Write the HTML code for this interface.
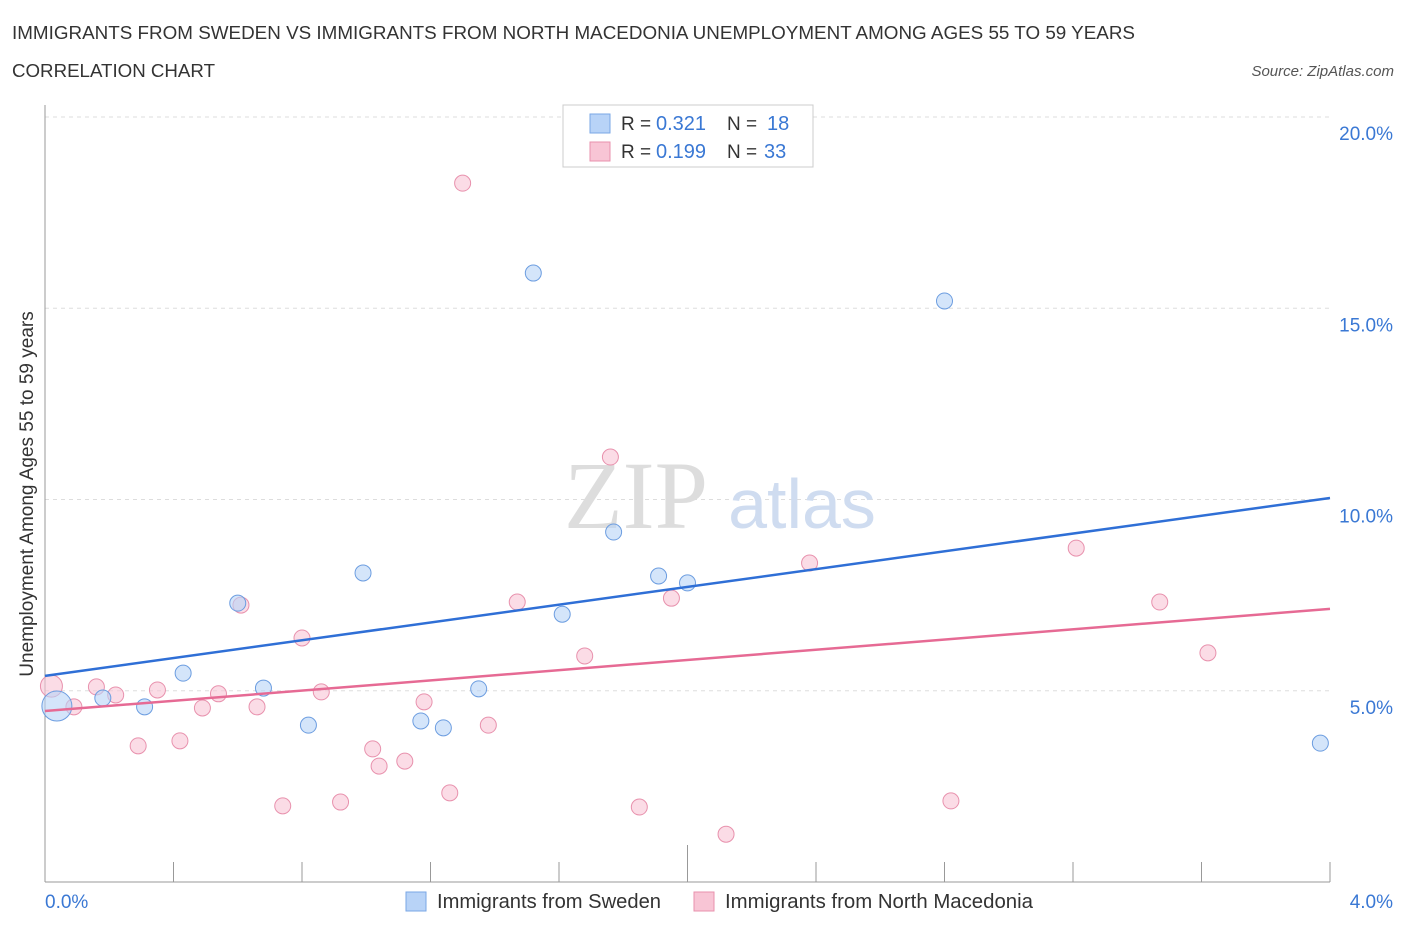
<!DOCTYPE html>
<html><head><meta charset="utf-8"><style>
body{margin:0;background:#fff;font-family:"Liberation Sans",sans-serif;}
</style></head><body>
<svg width="1406" height="930" xmlns="http://www.w3.org/2000/svg" style="font-family:'Liberation Sans',sans-serif">
<text x="12" y="39" font-size="18" fill="#333" textLength="1123" lengthAdjust="spacingAndGlyphs">IMMIGRANTS FROM SWEDEN VS IMMIGRANTS FROM NORTH MACEDONIA UNEMPLOYMENT AMONG AGES 55 TO 59 YEARS</text>
<text x="12" y="77" font-size="18" fill="#333" textLength="203" lengthAdjust="spacingAndGlyphs">CORRELATION CHART</text>
<text x="1394" y="76" font-size="15" fill="#555" font-style="italic" text-anchor="end">Source: ZipAtlas.com</text>
<g id="grid"></g>
<text x="636" y="528" font-size="96" fill="#ddd" font-family="Liberation Serif" text-anchor="middle">ZIP</text>
<text x="802" y="528" font-size="70" fill="#cfdcf0" text-anchor="middle">atlas</text>
<g id="marks"></g>
<text x="33" y="494" font-size="19" fill="#333" text-anchor="middle" transform="rotate(-90 33 494)">Unemployment Among Ages 55 to 59 years</text>
<g>
<rect x="563" y="105" width="250" height="62" fill="#fff" stroke="#ccc"/>
<rect x="590" y="114" width="20" height="19" fill="#b8d3f7" stroke="#7aa7e6"/>
<text x="621" y="130" font-size="19" fill="#333">R =</text>
<text x="656" y="130" font-size="20" fill="#3a78d4">0.321</text>
<text x="727" y="130" font-size="19" fill="#333">N =</text>
<text x="767" y="130" font-size="20" fill="#3a78d4">18</text>
<rect x="590" y="142" width="20" height="19" fill="#f8c5d5" stroke="#e891ad"/>
<text x="621" y="158" font-size="19" fill="#333">R =</text>
<text x="656" y="158" font-size="20" fill="#3a78d4">0.199</text>
<text x="727" y="158" font-size="19" fill="#333">N =</text>
<text x="764" y="158" font-size="20" fill="#3a78d4">33</text>
</g>
<g>
<rect x="406" y="892" width="20" height="19" fill="#b8d3f7" stroke="#7aa7e6"/>
<text x="437" y="908" font-size="20" fill="#333" textLength="224" lengthAdjust="spacingAndGlyphs">Immigrants from Sweden</text>
<rect x="694" y="892" width="20" height="19" fill="#f8c5d5" stroke="#e891ad"/>
<text x="725" y="908" font-size="20" fill="#333" textLength="308" lengthAdjust="spacingAndGlyphs">Immigrants from North Macedonia</text>
</g>
</svg>
<script>
const blueX=[0.037,0.18,0.31,0.43,0.60,0.68,0.82,0.99,1.17,1.24,1.35,1.52,1.61,1.77,1.91,2.00,2.80,3.97];
const blueY=[4.60,4.81,4.58,5.46,7.29,5.07,4.10,8.08,4.21,4.03,5.05,15.92,7.00,9.15,8.00,7.82,15.19,3.63];
const pinkX=[0.02,0.09,0.16,0.22,0.29,0.35,0.42,0.49,0.54,0.61,0.66,0.74,0.80,0.86,0.92,1.02,1.04,1.12,1.18,1.26,1.30,1.38,1.47,1.68,1.76,1.85,1.95,2.12,2.38,2.82,3.21,3.47,3.62];
const pinkY=[5.12,4.58,5.10,4.89,3.56,5.02,3.69,4.55,4.92,7.24,4.58,1.99,6.38,4.97,2.09,3.48,3.03,3.16,4.71,2.33,18.27,4.10,7.32,5.91,11.11,1.96,7.42,1.25,8.34,2.12,8.73,7.32,5.99];
const blueTrend=[5.39,10.04];
const pinkTrend=[4.47,7.14];
const yTicks=[5,10,15,20];
const yTickLabels=["5.0%","10.0%","15.0%","20.0%"];
const xTicks=[0,0.4,0.8,1.2,1.6,2.0,2.4,2.8,3.2,3.6,4.0];
const NS="http://www.w3.org/2000/svg";
const sx=v=>45+v*321.25, sy=v=>882-v*38.25;
function mk(t,a,p){const e=document.createElementNS(NS,t);for(const k in a)e.setAttribute(k,a[k]);p.appendChild(e);return e;}
const grid=document.getElementById('grid'), marks=document.getElementById('marks');
yTicks.forEach((v,i)=>{
 const l=mk('line',{x1:45,x2:1330,y1:sy(v),y2:sy(v),stroke:'#ddd','stroke-dasharray':'4,4'},grid);
 
 
 const t=mk('text',{x:1393,y:sy(v)+23,'font-size':19,fill:'#3a78d4','text-anchor':'end'},grid);
 t.textContent=yTickLabels[i];
 
 
});
const ax=mk('line',{x1:45,x2:45,y1:105,y2:882,stroke:'#999'},grid);


const bx=mk('line',{x1:45,x2:1330,y1:882,y2:882,stroke:'#999'},grid);


xTicks.forEach((v,i)=>{
 const tk=mk('line',{x1:sx(v),x2:sx(v),y1:882,y2:(i==5?845:862),stroke:'#999'},grid);
 
 
});
const x0=mk('text',{x:45,y:908,'font-size':19,fill:'#3a78d4'},grid);x0.textContent='0.0%';


const x1=mk('text',{x:1393,y:908,'font-size':19,fill:'#3a78d4','text-anchor':'end'},grid);x1.textContent='4.0%';


pinkX.forEach((x,i)=>{
 const c=mk('circle',{cx:sx(x),cy:sy(pinkY[i]),r:(i==0?11:8),fill:'#f8c5d5','fill-opacity':0.6,stroke:'#e891ad'},marks);
 
 
});
blueX.forEach((x,i)=>{
 const c=mk('circle',{cx:sx(x),cy:sy(blueY[i]),r:(i==0?15:8),fill:'#b8d3f7','fill-opacity':0.6,stroke:'#6c9de0'},marks);
 
 
});
const tb=mk('line',{x1:sx(0),y1:sy(blueTrend[0]),x2:sx(4),y2:sy(blueTrend[1]),stroke:'#2f6fd6','stroke-width':2.5},marks);


const tp=mk('line',{x1:sx(0),y1:sy(pinkTrend[0]),x2:sx(4),y2:sy(pinkTrend[1]),stroke:'#e66a94','stroke-width':2.5},marks);


</script>
</body></html>
